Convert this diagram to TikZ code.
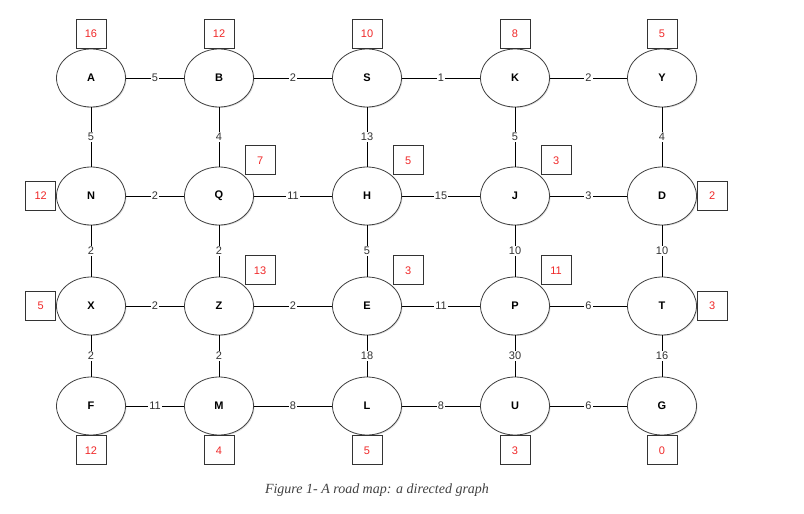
\documentclass[tikz,border=0pt]{standalone}
\usepackage{fontspec}
\setmainfont{Liberation Sans}
\newfontfamily\capfont{Liberation Serif}
\usetikzlibrary{positioning, shadows, shapes.geometric}
\definecolor{hred}{RGB}{240,40,40}
\tikzset{
	city/.style={ellipse, draw=black!75, thick, fill=white, minimum width=69pt, minimum height=58pt, font=\bfseries\fontsize{11}{13}\selectfont, drop shadow={opacity=0.25, shadow xshift=1pt, shadow yshift=-1pt}},
	hbox/.style={draw=black!80, thick, fill=white, minimum width=30pt, minimum height=29pt, inner sep=0pt, text=hred, font=\fontsize{11}{13}\selectfont},
	road/.style={black, thick},
	cost/.style={fill=white, inner sep=1pt, font=\fontsize{11}{13}\selectfont, text=black!80}
}
\begin{document}
\begin{tikzpicture}[x=1pt, y=-1pt]
		\useasboundingbox (0,0) rectangle (804,514);
			%cities:
			\foreach \n/\x/\y in {A/91/78, B/219/78, S/367/78, K/515/78, Y/662/78,
				N/91/196, Q/219/196, H/367/196, J/515/196, D/662/196,
				X/91/306, Z/219/306, E/367/306, P/515/306, T/662/306,
				F/91/406, M/219/406, L/367/406, U/515/406, G/662/406}
			\node[city] (\n) at (\x,\y) {\n};

			%roads:
			\foreach \a/\b/\c in {A/B/5, B/S/2, S/K/1, K/Y/2, N/Q/2, Q/H/11, H/J/15, J/D/3,
				X/Z/2, Z/E/2, E/P/11, P/T/6, F/M/11, M/L/8, L/U/8, U/G/6,
				A/N/5, B/Q/4, S/H/13, K/J/5, Y/D/4, N/X/2, Q/Z/2, H/E/5, J/P/10, D/T/10,
				X/F/2, Z/M/2, E/L/18, P/U/30, T/G/16}
			\draw[road] (\a) -- (\b) node[cost, midway]{\c};

			%heuristics:
			\foreach \n/\h in {A/16, B/12, S/10, K/8, Y/5}
			\node[hbox, anchor=south] (h\n) at (\n.north) {\h};
			\foreach \n/\h in {F/12, M/4, L/5, U/3, G/0}
			\node[hbox, anchor=north] (h\n) at (\n.south) {\h};
			\foreach \n/\h in {Q/7, H/5, J/3, Z/13, E/3, P/11}
			\node[hbox, anchor=south west] (h\n) at ([xshift=1pt, yshift=0pt]\n.north east) {\h};
			\node[hbox, anchor=east] (hN) at (N.west) {12};
			\node[hbox, anchor=east] (hX) at (X.west) {5};
			\node[hbox, anchor=west] (hD) at (D.east) {2};
			\node[hbox, anchor=west] (hT) at (T.east) {3};

			\node[font=\capfont\itshape\fontsize{14}{16}\selectfont, text=black!75] (cap) at (377,490) {Figure 1- A road map: a directed graph};
	\end{tikzpicture}
\end{document}
